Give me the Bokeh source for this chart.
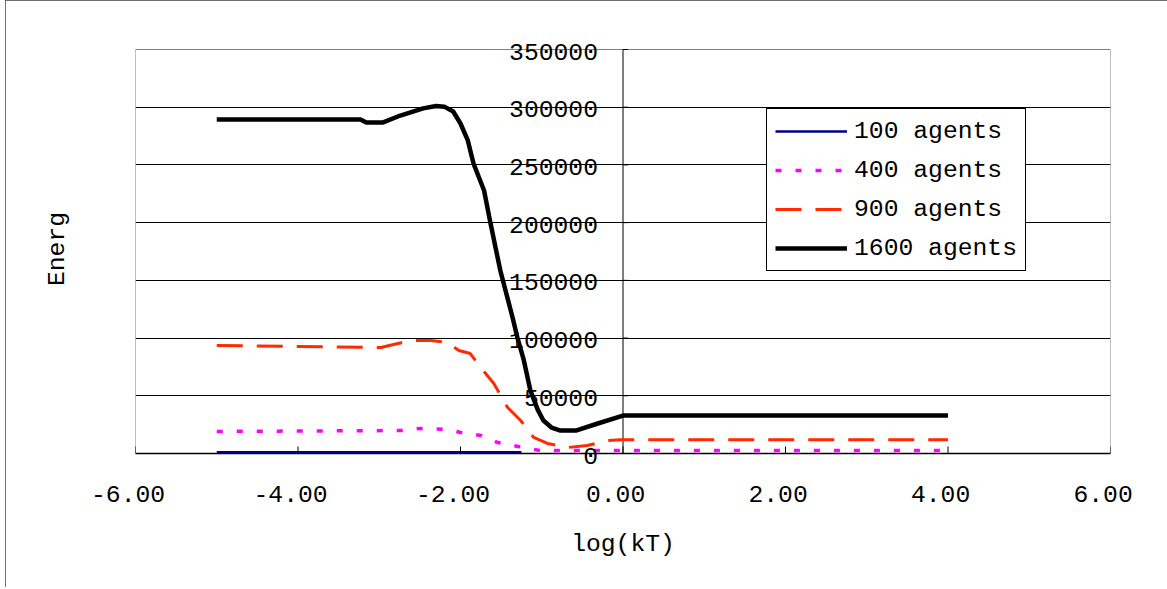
import math
from bokeh.plotting import figure
from bokeh.models import Range1d, FixedTicker, Label, Legend, LegendItem
from bokeh.embed import file_html
from bokeh.resources import INLINE

# ---- data ----
x_100 = [-5.0, -4.0, -3.0, -2.0, -1.25]
e_100 = [1000, 1000, 1000, 1000, 1000]

x_400 = [-5.0, -2.74, -2.49, -2.16, -2.0, -1.75, -1.54, -1.29, -1.02, 0.0, 4.0]
e_400 = [19100, 19900, 21700, 20800, 18200, 15600, 9500, 6100, 2600, 2600, 2600]

x_900 = [-5.0, -2.98, -2.62, -2.37, -2.16, -2.02, -1.88, -1.75, -1.59, -1.42,
         -1.26, -1.10, -0.93, -0.68, -0.44, -0.19, -0.03, 4.0]
e_900 = [93600, 91800, 97900, 97900, 96200, 89200, 86600, 74500, 60600, 39800,
         28600, 13900, 8700, 5200, 6900, 11300, 12000, 12000]

x_1600 = [-5.0, -3.23, -3.16, -2.96, -2.74, -2.46, -2.30, -2.20, -2.09, -2.0, -1.91,
          -1.84, -1.71, -1.63, -1.51, -1.36, -1.30, -1.22, -1.14, -1.05, -0.98, -0.88,
          -0.77, -0.58, -0.31, 0.0, 4.0]
e_1600 = [289300, 289300, 286700, 286700, 292800, 299000, 301000, 300500, 296300, 285900, 271200,
          251200, 227800, 199200, 158500, 118000, 100500, 80600, 54600, 38000, 28600, 22500,
          19900, 19900, 26000, 32900, 32900]

series_labels = ["100 agents", "400 agents", "900 agents", "1600 agents"]

x_min, x_max = -6, 6
y_min, y_max = 0, 350000
xtick_vals = [-6, -4, -2, 0, 2, 4, 6]
xtick_labels = ["-6.00", "-4.00", "-2.00", "0.00", "2.00", "4.00", "6.00"]
ytick_vals = [0, 50000, 100000, 150000, 200000, 250000, 300000, 350000]
ytick_labels = ["0", "50000", "100000", "150000", "200000", "250000", "300000", "350000"]

FONT = "Liberation Mono"
FS = "24.7px"

# plot area geometry (px): visible area 404 px tall, canvas frame padded so edge labels are not clipped
AREA_H = 404
PAD_TOP, PAD_BOT = 19, 14
per_px = (y_max - y_min) / AREA_H
y_lo = y_min - PAD_BOT * per_px
y_hi = y_max + PAD_TOP * per_px

p = figure(width=1162, height=587, x_range=Range1d(x_min, x_max), y_range=Range1d(y_lo, y_hi),
           output_backend="svg", toolbar_location=None,
           min_border_left=130, min_border_right=57,
           min_border_top=49 - PAD_TOP, min_border_bottom=134 - PAD_BOT)
p.title = None
p.background_fill_color = "white"
p.border_fill_color = "white"
p.outline_line_color = None
p.styles = {"outline": "2px solid #444444", "outline-offset": "-2px", "margin-left": "5px"}

# grid
p.xgrid.visible = False
p.ygrid.ticker = FixedTicker(ticks=ytick_vals[:-1])
p.ygrid.grid_line_color = "black"
p.ygrid.grid_line_width = 1

# plot-area border (gray) and axes lines (black)
p.segment(x0=[x_min, x_min, x_max], y0=[y_min, y_max, y_min],
          x1=[x_min, x_max, x_max], y1=[y_max, y_max, y_max],
          line_color="#808080", line_width=1)
p.segment(x0=[0], y0=[y_min], x1=[0], y1=[y_max], line_color="black", line_width=1)
p.segment(x0=[x_min], y0=[y_min], x1=[x_max], y1=[y_min], line_color="black", line_width=1.5)
p.ray(x=xtick_vals, y=[y_min] * len(xtick_vals), length=7, length_units="screen",
      angle=math.pi / 2, line_color="black", line_width=1)
p.ray(x=[0] * len(ytick_vals), y=ytick_vals, length=5, length_units="screen",
      angle=0, line_color="black", line_width=1)

# bottom axis: labels only
xa = p.xaxis[0]
xa.ticker = FixedTicker(ticks=xtick_vals)
xa.major_label_overrides = {float(v): l + "\u00a0" for v, l in zip(xtick_vals, xtick_labels)}
xa.major_tick_in = 0
xa.major_tick_out = 0
xa.major_tick_line_color = None
xa.minor_tick_line_color = None
xa.axis_line_color = None
xa.major_label_text_font = FONT
xa.major_label_text_font_size = FS
xa.major_label_text_color = "black"
xa.major_label_standoff = 27 - PAD_BOT
xa.axis_label = "log(kT)"
xa.axis_label_text_font = FONT
xa.axis_label_text_font_size = FS
xa.axis_label_text_font_style = "normal"
xa.axis_label_text_color = "black"
xa.axis_label_standoff = 18

# left axis: only the title
ya = p.yaxis[0]
ya.ticker = FixedTicker(ticks=[])
ya.major_tick_out = 0
ya.major_tick_in = 0
ya.minor_tick_line_color = None
ya.major_label_standoff = 0
ya.axis_line_color = None
ya.axis_label = "Energ"
ya.axis_label_text_font = FONT
ya.axis_label_text_font_size = FS
ya.axis_label_text_font_style = "normal"
ya.axis_label_text_color = "black"
ya.axis_label_standoff = 65

# series
r100 = p.line(x_100, e_100, line_color="#000080", line_width=2.5)
r400 = p.line(x_400, e_400, line_color="#FF00FF", line_width=3.5, line_dash="6 14")
r900 = p.line(x_900, e_900, line_color="#FF2A00", line_width=3, line_dash="26 14")
r1600 = p.line(x_1600, e_1600, line_color="black", line_width=4.5)

# value labels next to the x=0 axis
for yv, yt in zip(ytick_vals, ytick_labels):
    p.add_layout(Label(x=0, y=yv, text=yt, x_offset=-25, y_offset=-2,
                       text_align="right", text_baseline="middle",
                       text_font=FONT, text_font_size=FS, text_color="black"))

legend = Legend(items=[LegendItem(label=series_labels[0], renderers=[r100]),
                       LegendItem(label=series_labels[1], renderers=[r400]),
                       LegendItem(label=series_labels[2], renderers=[r900]),
                       LegendItem(label=series_labels[3], renderers=[r1600])],
                location=(631, 182 + PAD_BOT))
legend.margin = 0
legend.padding = 8
legend.spacing = 11
legend.glyph_width = 72
legend.glyph_height = 28
legend.label_height = 28
legend.label_standoff = 7
legend.label_text_font = FONT
legend.label_text_font_size = FS
legend.label_text_color = "black"
legend.border_line_color = "black"
legend.border_line_width = 1
legend.border_line_alpha = 1
legend.background_fill_color = "white"
legend.background_fill_alpha = 1
p.add_layout(legend)

open("out.html", "w").write(file_html(p, INLINE))
